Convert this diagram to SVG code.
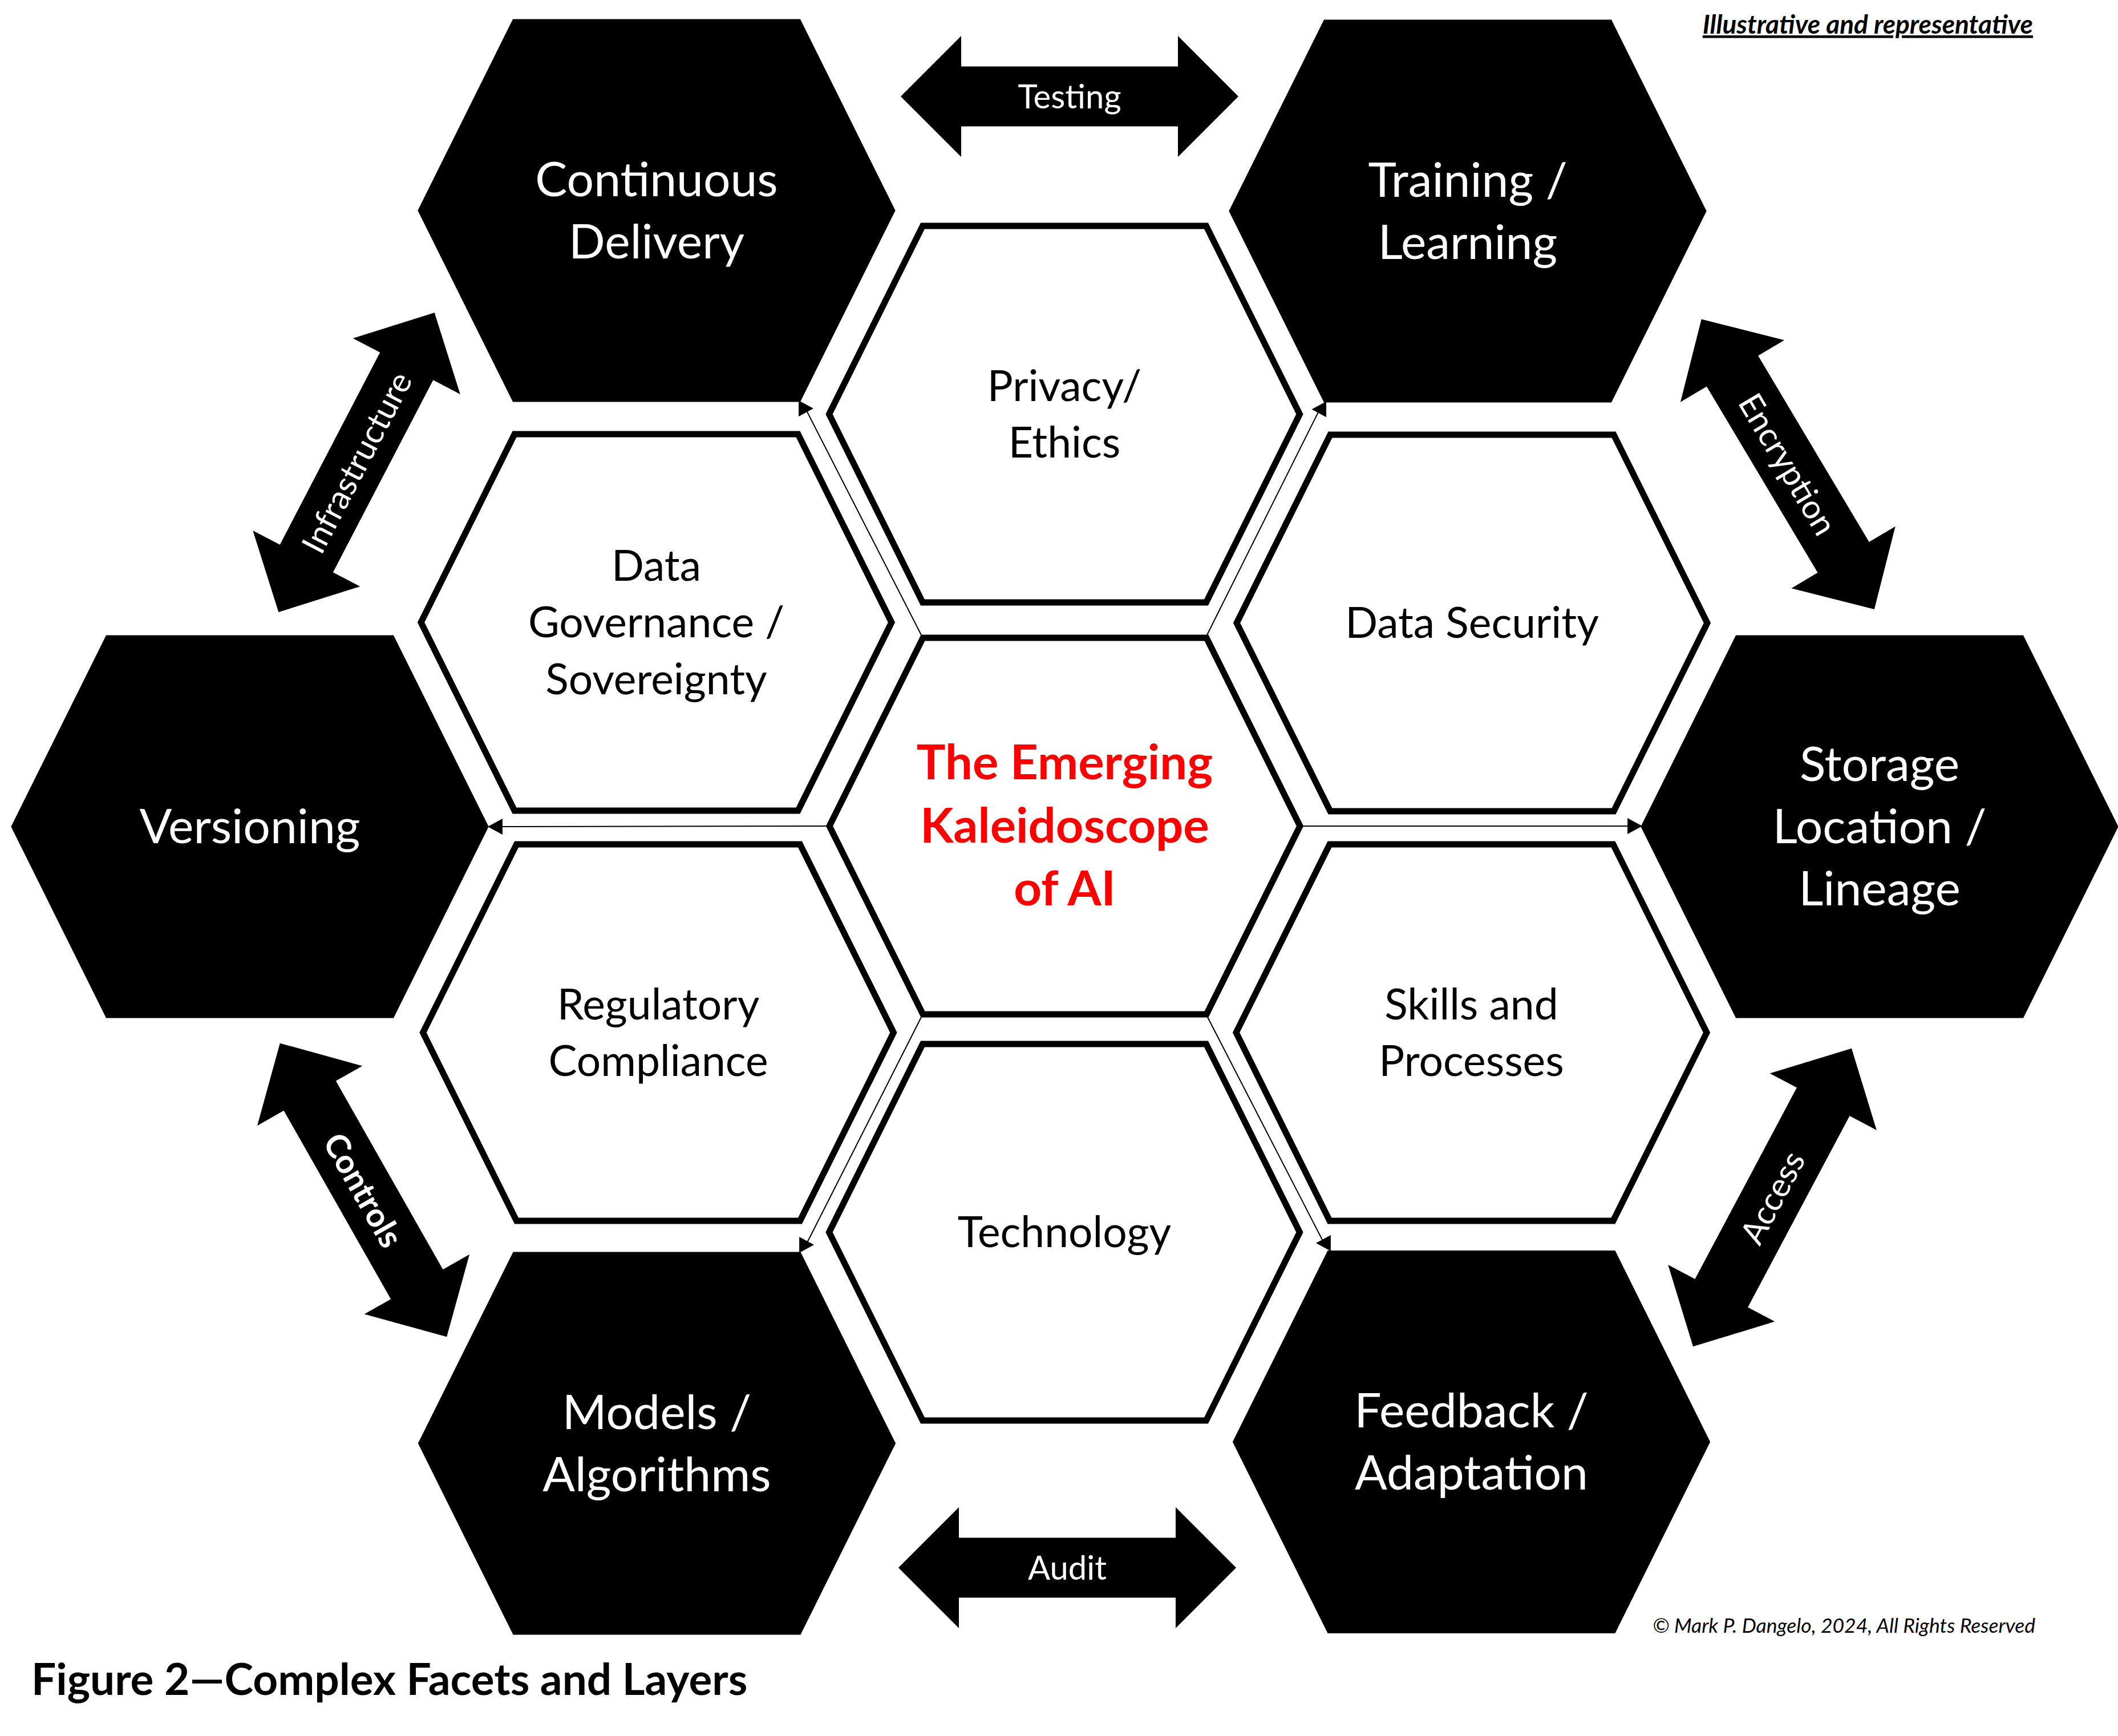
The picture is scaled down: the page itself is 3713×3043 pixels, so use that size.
<svg xmlns="http://www.w3.org/2000/svg" xmlns:xlink="http://www.w3.org/1999/xlink" width="3713" height="3043" viewBox="0 0 3713 3043">
<style>
.hw{fill:#fff;stroke:#000;stroke-width:11}
.hb{fill:#000;stroke:#000;stroke-width:11}
.t{font-family:Lato,"Liberation Sans",sans-serif;text-anchor:middle}
.lw{font-size:75px;fill:#000}
.lb{font-size:84px;fill:#fff}
.ctr{font-size:85px;font-weight:700;fill:#ff0000}
.ba{fill:#000}
.at{font-size:58px;fill:#fff}
.conn{stroke:#000;stroke-width:2;fill:none}
</style>
<defs>
<path id="hex" d="M-412.5,0 L-248.5,-330 L248.5,-330 L412.5,0 L248.5,330 L-248.5,330 Z"/>
<path id="barrow" d="M-296,0 L-190,-106 L-190,-52.5 L190,-52.5 L190,-106 L296,0 L190,106 L190,52.5 L-190,52.5 L-190,106 Z"/>
<marker id="ahR" markerUnits="userSpaceOnUse" markerWidth="26" markerHeight="28" viewBox="0 0 24 26" refX="11" refY="13" orient="0"><path d="M0,0 L24,13 L0,26 Z" fill="#000"/></marker>
<marker id="ahL" markerUnits="userSpaceOnUse" markerWidth="26" markerHeight="28" viewBox="0 0 24 26" refX="11" refY="13" orient="180"><path d="M0,0 L24,13 L0,26 Z" fill="#000"/></marker>
</defs>
<rect width="3713" height="3043" fill="#fff"/>

<g id="privacy-ethics">
<use xlink:href="#hex" x="1866" y="726" class="hw"/>
<text class="t lw"><tspan x="1866" y="702.5">Privacy/</tspan><tspan x="1866" y="802">Ethics</tspan></text>
</g>
<g id="data-governance">
<use xlink:href="#hex" x="1150.5" y="1091" class="hw"/>
<text class="t lw"><tspan x="1150.5" y="1017.5">Data</tspan><tspan x="1150.5" y="1117">Governance /</tspan><tspan x="1150.5" y="1216.5">Sovereignty</tspan></text>
</g>
<g id="data-security">
<use xlink:href="#hex" x="2580.5" y="1092" class="hw"/>
<text class="t lw" x="2580.5" y="1118">Data Security</text>
</g>
<g id="emerging-kaleidoscope">
<use xlink:href="#hex" x="1866.5" y="1448" class="hw"/>
<text class="t ctr"><tspan x="1866.5" y="1366">The Emerging</tspan><tspan x="1866.5" y="1477">Kaleidoscope</tspan><tspan x="1866.5" y="1587">of AI</tspan></text>
</g>
<g id="regulatory-compliance">
<use xlink:href="#hex" x="1154" y="1810" class="hw"/>
<text class="t lw"><tspan x="1154" y="1786.5">Regulatory</tspan><tspan x="1154" y="1886">Compliance</tspan></text>
</g>
<g id="skills-processes">
<use xlink:href="#hex" x="2579.5" y="1810" class="hw"/>
<text class="t lw"><tspan x="2579.5" y="1786.5">Skills and</tspan><tspan x="2579.5" y="1886">Processes</tspan></text>
</g>
<g id="technology">
<use xlink:href="#hex" x="1866" y="2160" class="hw"/>
<text class="t lw" x="1866" y="2186">Technology</text>
</g>

<g id="continuous-delivery">
<use xlink:href="#hex" x="1151" y="369" class="hb"/>
<text class="t lb"><tspan x="1151" y="344">Continuous</tspan><tspan x="1151" y="453">Delivery</tspan></text>
</g>
<g id="training-learning">
<use xlink:href="#hex" x="2573" y="370" class="hb"/>
<text class="t lb"><tspan x="2573" y="345">Training /</tspan><tspan x="2573" y="454">Learning</tspan></text>
</g>
<g id="versioning">
<use xlink:href="#hex" x="438" y="1449" class="hb"/>
<text class="t lb" x="438" y="1478">Versioning</text>
</g>
<g id="storage-location-lineage">
<use xlink:href="#hex" x="3295" y="1449" class="hb"/>
<text class="t lb"><tspan x="3295" y="1369">Storage</tspan><tspan x="3295" y="1478">Location /</tspan><tspan x="3295" y="1587">Lineage</tspan></text>
</g>
<g id="models-algorithms">
<use xlink:href="#hex" x="1151.5" y="2530" class="hb"/>
<text class="t lb"><tspan x="1151.5" y="2505">Models /</tspan><tspan x="1151.5" y="2614">Algorithms</tspan></text>
</g>
<g id="feedback-adaptation">
<use xlink:href="#hex" x="2579.5" y="2527.5" class="hb"/>
<text class="t lb"><tspan x="2579.5" y="2502">Feedback /</tspan><tspan x="2579.5" y="2611">Adaptation</tspan></text>
</g>

<g id="connectors">
<line class="conn" x1="1615" y1="1113" x2="1412" y2="716" marker-end="url(#ahR)"/>
<line class="conn" x1="2116" y1="1113" x2="2313.5" y2="717.5" marker-end="url(#ahL)"/>
<line class="conn" x1="1449" y1="1448" x2="869" y2="1449" marker-end="url(#ahL)"/>
<line class="conn" x1="2284" y1="1448" x2="2865" y2="1448" marker-end="url(#ahR)"/>
<line class="conn" x1="1615" y1="1783" x2="1413" y2="2182" marker-end="url(#ahR)"/>
<line class="conn" x1="2117" y1="1783" x2="2321" y2="2179" marker-end="url(#ahL)"/>
</g>

<g id="arrow-testing" transform="translate(1875,169)">
<use xlink:href="#barrow" class="ba"/>
<text class="t at" x="0" y="21">Testing</text>
</g>
<g id="arrow-audit" transform="translate(1871,2748)">
<use xlink:href="#barrow" class="ba"/>
<text class="t at" x="0" y="21">Audit</text>
</g>
<g id="arrow-infrastructure" transform="translate(625,810.5) rotate(-62.5)">
<use xlink:href="#barrow" class="ba"/>
<text class="t at" x="0" y="21">Infrastructure</text>
</g>
<g id="arrow-encryption" transform="translate(3134.3,813.7) rotate(59.2)">
<use xlink:href="#barrow" class="ba"/>
<text class="t at" x="0" y="21">Encryption</text>
</g>
<g id="arrow-controls" transform="translate(637,2086) rotate(60.4)">
<use xlink:href="#barrow" class="ba"/>
<text class="t at" x="0" y="21" font-weight="700">Controls</text>
</g>
<g id="arrow-access" transform="translate(3107,2099) rotate(-62)">
<use xlink:href="#barrow" class="ba"/>
<text class="t at" x="0" y="21">Access</text>
</g>

<text x="3564" y="59" font-family="Lato,'Liberation Sans',sans-serif" font-size="46" font-weight="700" font-style="italic" text-anchor="end" text-decoration="underline">Illustrative and representative</text>
<text x="3568" y="2862" font-family="Lato,'Liberation Sans',sans-serif" font-size="35.5" font-style="italic" text-anchor="end">© Mark P. Dangelo, 2024, All Rights Reserved</text>
<text x="55" y="2971" font-family="Lato,'Liberation Sans',sans-serif" font-size="76.5" font-weight="700">Figure 2—Complex Facets and Layers</text>
</svg>
